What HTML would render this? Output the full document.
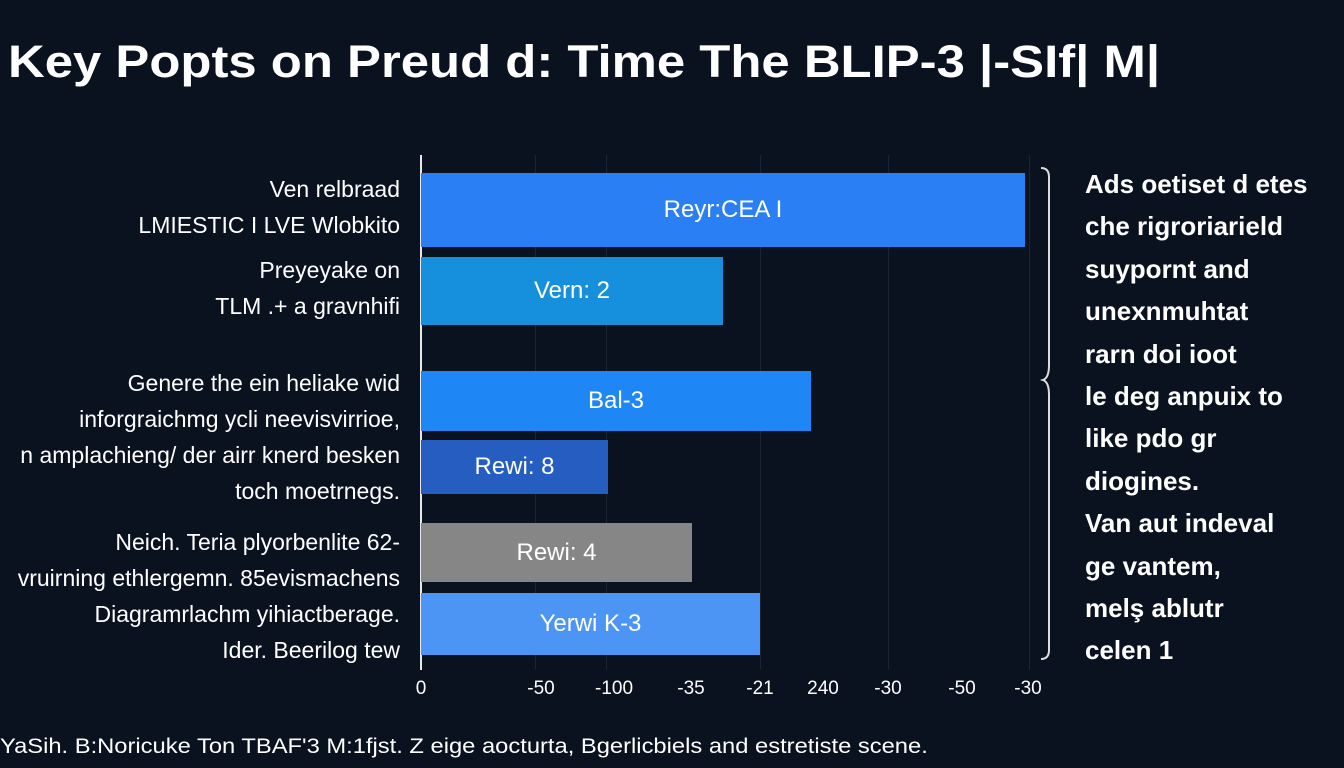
<!DOCTYPE html>
<html><head><meta charset="utf-8"><style>
body{margin:0;width:1344px;height:768px;background:#0a1220;overflow:hidden;position:relative;font-family:"Liberation Sans",sans-serif;color:#fff}
.t{position:absolute;white-space:nowrap;transform-origin:0 0}
.bar{position:absolute;left:421px;display:flex;align-items:center;justify-content:center;font-size:24px;color:#fff}
.l{position:absolute;right:944px;text-align:right;font-size:23px;line-height:36px;white-space:nowrap}
.r{position:absolute;left:1085px;top:163px;font-size:26px;line-height:42.4px;font-weight:bold;white-space:nowrap}
.g{position:absolute;top:155px;height:515px;width:1px;background:#1a2434}
.x{position:absolute;top:678px;font-size:19px;transform:translateX(-50%)}
</style></head><body>
<div class="t" style="left:8px;top:36px;font-size:45px;font-weight:bold;transform:scaleX(1.13)">Key Popts on Preud d: Time The BLIP-3 |-SIf| M|</div>
<div class="g" style="left:535px"></div><div class="g" style="left:606px"></div><div class="g" style="left:760px"></div><div class="g" style="left:888px"></div><div class="g" style="left:1029px"></div>
<div style="position:absolute;left:420px;top:155px;width:2px;height:515px;background:#e8e8e8"></div>
<div class="bar" style="top:173px;width:604px;height:74px;background:#2a7ff4">Reyr:CEA I</div>
<div class="bar" style="top:257px;width:302px;height:68px;background:#1690dc">Vern: 2</div>
<div class="bar" style="top:371px;width:390px;height:60px;background:#1f86f6">Bal-3</div>
<div class="bar" style="top:440px;width:187px;height:54px;background:#255ec0">Rewi: 8</div>
<div class="bar" style="top:523px;width:271px;height:59px;background:#868686">Rewi: 4</div>
<div class="bar" style="top:593px;width:339px;height:62px;background:#4d95f5">Yerwi K-3</div>
<svg style="position:absolute;left:1035px;top:165px" width="25" height="500"><path d="M6 3 Q14 3 14 12 L14 200 Q14 213 8 215 Q14 217 14 230 L14 485 Q14 494 6 494" stroke="#ddd" stroke-width="2" fill="none"/></svg>
<div class="l" style="top:171px">Ven relbraad<br>LMIESTIC I LVE Wlobkito</div>
<div class="l" style="top:252px">Preyeyake on<br>TLM .+ a gravnhifi</div>
<div class="l" style="top:365px">Genere the ein heliake wid<br>inforgraichmg ycli neevisvirrioe,<br>n amplachieng/ der airr knerd besken<br>toch moetrnegs.</div>
<div class="l" style="top:524px">Neich. Teria plyorbenlite 62-<br>vruirning ethlergemn. 85evismachens<br>Diagramrlachm yihiactberage.<br>Ider. Beerilog tew</div>
<div class="r">Ads oetiset d etes<br>che rigroriarield<br>suypornt and<br>unexnmuhtat<br>rarn doi ioot<br>le deg anpuix to<br>like pdo gr<br>diogines.<br>Van aut indeval<br>ge vantem,<br>melş ablutr<br>celen 1</div>
<div class="x" style="left:421px">0</div><div class="x" style="left:541px">-50</div><div class="x" style="left:614px">-100</div><div class="x" style="left:691px">-35</div><div class="x" style="left:760px">-21</div><div class="x" style="left:823px">240</div><div class="x" style="left:888px">-30</div><div class="x" style="left:962px">-50</div><div class="x" style="left:1028px">-30</div>
<div class="t" style="left:0;top:735px;font-size:21px;transform:scaleX(1.13)">YaSih. B:Noricuke Ton TBAF'3 M:1fjst. Z eige aocturta, Bgerlicbiels and estretiste scene.</div>
</body></html>
